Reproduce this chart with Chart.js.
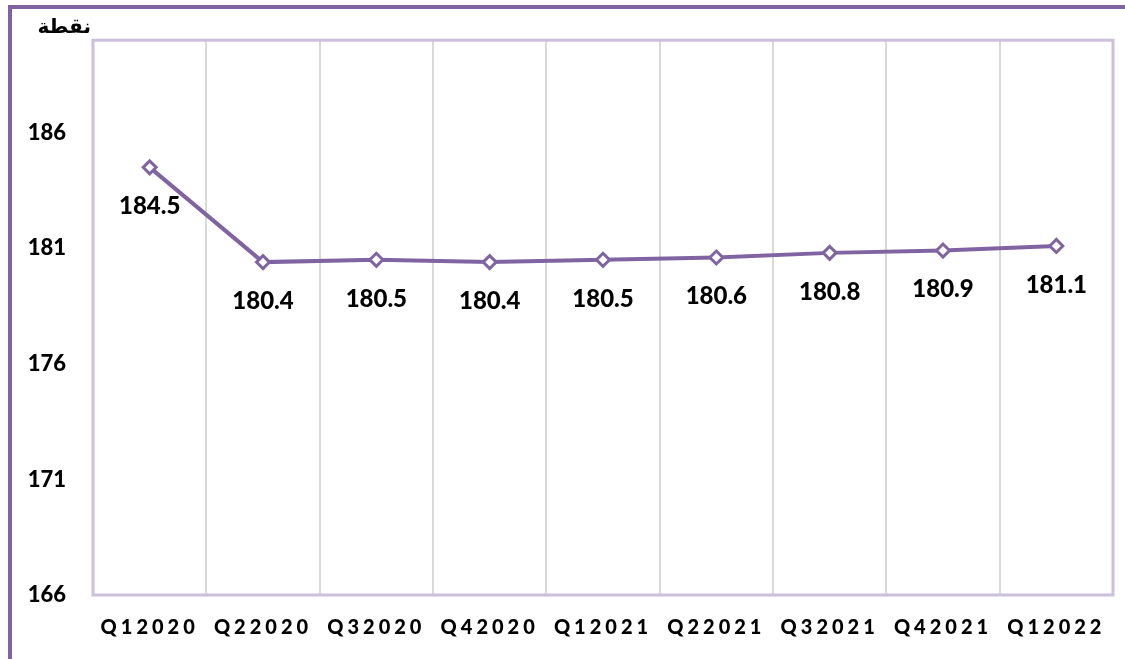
<!DOCTYPE html>
<html>
<head>
<meta charset="utf-8">
<script src="https://cdn.jsdelivr.net/npm/chart.js@4.4.1/dist/chart.umd.min.js"></script>
<style>
  html, body { margin: 0; padding: 0; background: #fff; overflow: hidden; }
  #frame { position: absolute; left: 8px; top: 5px; width: 1200px; height: 700px;
           border-left: 4px solid #8064A2; border-top: 4px solid #8064A2; }
  #wrap { position: absolute; left: 0; top: 0; width: 1125px; height: 659px; }
</style>
</head>
<body>
<div id="frame"></div>
<div id="wrap"><canvas id="c" width="1125" height="659"></canvas></div>
<script>
const categories = ['Q12020','Q22020','Q32020','Q42020','Q12021','Q22021','Q32021','Q42021','Q12022'];
const values = [184.5, 180.4, 180.5, 180.4, 180.5, 180.6, 180.8, 180.9, 181.1];
const yTicks = [166, 171, 176, 181, 186];
const unitLabel = 'نقطة';

const PURPLE = '#8064A2';
const FONT = 'Lato, "Liberation Sans", sans-serif';

const plotBorder = {
  id: 'plotBorder',
  beforeDatasetsDraw(chart) {
    const a = chart.chartArea, ctx = chart.ctx;
    ctx.save();
    ctx.strokeStyle = '#CCC0DA';
    ctx.lineWidth = 3;
    ctx.strokeRect(a.left, a.top, a.right - a.left, a.bottom - a.top);
    ctx.restore();
  }
};

const labelsPlugin = {
  id: 'valueLabels',
  afterDatasetsDraw(chart) {
    const ctx = chart.ctx, a = chart.chartArea;
    const meta = chart.getDatasetMeta(0);
    ctx.save();
    ctx.font = '900 24px ' + FONT;
    ctx.fillStyle = '#000';
    ctx.textAlign = 'center';
    ctx.textBaseline = 'middle';
    meta.data.forEach((pt, i) => {
      ctx.fillText(values[i].toFixed(1), pt.x, pt.y + 39);
    });
    ctx.font = 'bold 20px "DejaVu Sans", sans-serif';
    ctx.textAlign = 'right';
    ctx.fillText(unitLabel, a.left - 2, a.top - 12);
    ctx.restore();
    // letter spacing for the x-axis tick labels drawn next (z = 1 layer)
    ctx.letterSpacing = '4px';
  },
  afterDraw(chart) {
    chart.ctx.letterSpacing = '0px';
  }
};

new Chart(document.getElementById('c'), {
  type: 'line',
  data: {
    labels: categories,
    datasets: [{
      data: values,
      borderColor: PURPLE,
      borderWidth: 4,
      pointStyle: 'rectRot',
      pointRadius: 6.5,
      pointBorderWidth: 3,
      pointBackgroundColor: '#fff',
      pointBorderColor: PURPLE,
      tension: 0
    }]
  },
  options: {
    responsive: false,
    animation: false,
    layout: { padding: { left: 15, right: 12, top: 38, bottom: 0 } },
    plugins: { legend: { display: false }, tooltip: { enabled: false } },
    scales: {
      x: {
        offset: true,
        grid: { offset: true, color: '#D9D9D9', lineWidth: 2, drawTicks: false },
        border: { display: false },
        afterFit(s) { s.height = 64; },
        ticks: {
          z: 1,
          padding: 21,
          color: '#000',
          font: { family: FONT, size: 20, weight: '900' },
          maxRotation: 0,
          autoSkip: false
        }
      },
      y: {
        min: 166, max: 190,
        grid: { display: false, drawTicks: false },
        border: { display: false },
        afterFit(s) { s.width = 78; },
        afterBuildTicks(s) { s.ticks = yTicks.map(v => ({ value: v })); },
        ticks: {
          padding: 27,
          color: '#000',
          font: { family: FONT, size: 22, weight: '900' }
        }
      }
    }
  },
  plugins: [plotBorder, labelsPlugin]
});
</script>
</body>
</html>
